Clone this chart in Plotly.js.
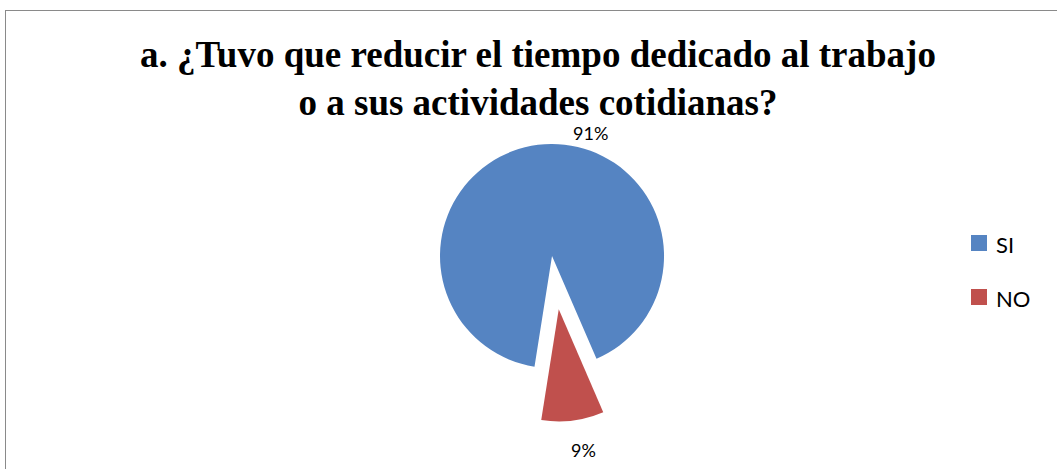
<!DOCTYPE html>
<html><head><meta charset="utf-8">
<script src="https://cdn.plot.ly/plotly-3.0.1.min.js"></script>
<style>
html,body{margin:0;padding:0;background:#fff;overflow:hidden;}
#wrap{position:relative;width:1057px;height:469px;}
#chart{position:absolute;left:0;top:0;width:1057px;height:469px;}
#frame{position:absolute;left:5px;top:10px;width:1100px;height:520px;border:1px solid #8a8a8a;pointer-events:none;}
</style></head>
<body>
<div id="wrap"><div id="chart"></div><div id="frame"></div></div>
<script>
const categories = ["SI", "NO"];
const values = [91, 9];
const colors = ["#5584C2", "#C0504D"];
const titleText = "a. ¿Tuvo que reducir el tiempo dedicado al trabajo<br>o a sus actividades cotidianas?";

const total = values.reduce((a, b) => a + b, 0);
const pctLabels = values.map(v => Math.round(v / total * 100) + "%");

const W = 1057, H = 469;
const px = x => x / W;
const py = y => 1 - y / H;

const trace = {
  type: "pie",
  labels: categories,
  values: values,
  sort: false,
  direction: "clockwise",
  rotation: 189,
  pull: [0, 0.48],
  marker: {colors: colors, line: {color: "rgba(0,0,0,0)", width: 0}},
  textinfo: "none",
  hoverinfo: "none",
  showlegend: false,
  domain: {x: [0.3654, 0.6791], y: [0.1006, 0.8077]}
};

const labelFont = {family: "Lato, Open Sans, sans-serif", size: 18, color: "#000"};
const labelPos = [[590, 133], [583, 450]];
const legendY = [243, 297];

const annotations = [];
const shapes = [];
categories.forEach((c, i) => {
  annotations.push({
    text: pctLabels[i], xref: "paper", yref: "paper",
    x: px(labelPos[i][0]), y: py(labelPos[i][1]),
    xanchor: "center", yanchor: "middle", showarrow: false, font: labelFont
  });
  shapes.push({
    type: "rect", xref: "paper", yref: "paper",
    x0: px(971), x1: px(987), y0: py(legendY[i] + 8), y1: py(legendY[i] - 8),
    fillcolor: colors[i], line: {width: 0}
  });
  annotations.push({
    text: c, xref: "paper", yref: "paper",
    x: px(994), y: py(legendY[i] + 1),
    xanchor: "left", yanchor: "middle", showarrow: false,
    font: {family: "Lato, Open Sans, sans-serif", size: 22, color: "#000"}
  });
});

const layout = {
  width: W, height: H,
  margin: {l: 0, r: 0, t: 0, b: 0},
  paper_bgcolor: "#fff",
  plot_bgcolor: "#fff",
  title: {
    text: titleText,
    font: {family: "Liberation Serif, Times New Roman, serif", size: 37, color: "#000", weight: "bold"},
    x: px(538), xref: "paper", xanchor: "center",
    y: py(67), yref: "container", yanchor: "top"
  },
  showlegend: false,
  annotations: annotations,
  shapes: shapes
};

Plotly.newPlot("chart", [trace], layout, {displayModeBar: false, staticPlot: true});
</script>
</body></html>
